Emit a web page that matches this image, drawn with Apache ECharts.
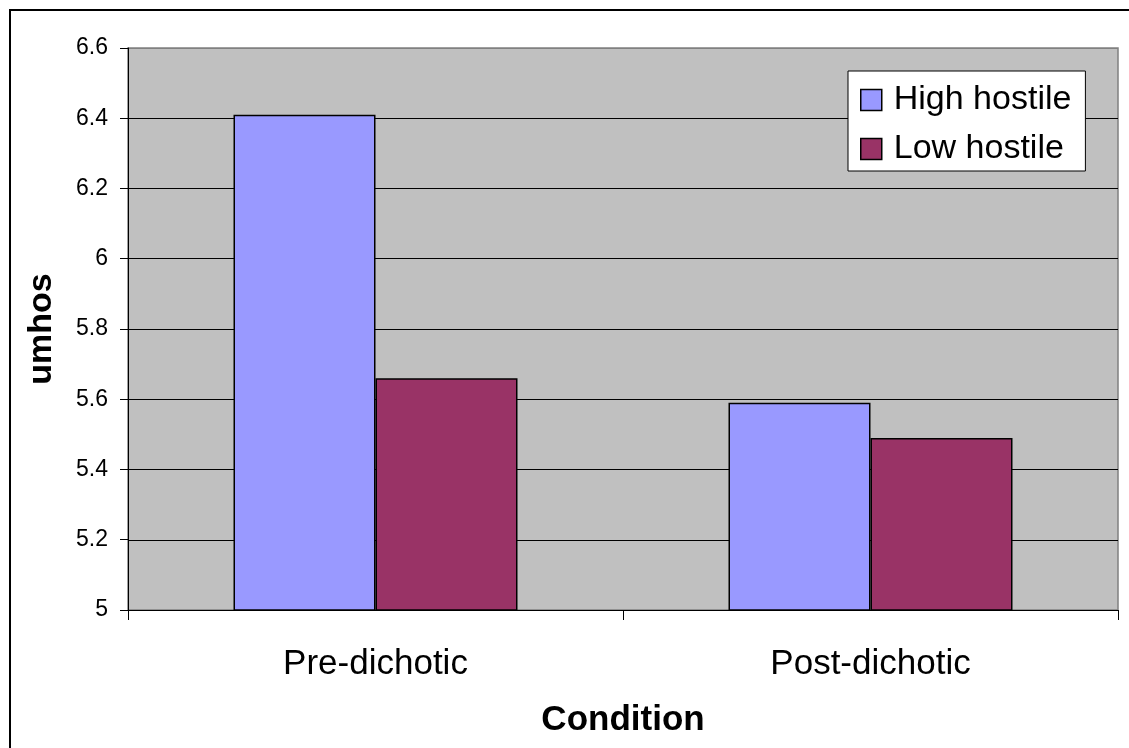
<!DOCTYPE html>
<html>
<head>
<meta charset="utf-8">
<script src="https://cdn.jsdelivr.net/npm/echarts@6/dist/echarts.min.js"></script>
<style>
html,body{margin:0;padding:0;background:#fff;}
#chart{width:1129px;height:748px;}
</style>
</head>
<body>
<div id="chart"></div>
<script>
const categories = ['Pre-dichotic', 'Post-dichotic'];
const highHostile = [6.41, 5.59];
const lowHostile = [5.66, 5.49];
const seriesNames = ['High hostile', 'Low hostile'];

const FONT = '"Liberation Sans", Arial, sans-serif';
const chart = echarts.init(document.getElementById('chart'));
chart.setOption({
  animation: false,
  backgroundColor: '#ffffff',
  graphic: [{
    type: 'rect',
    shape: {x: 10, y: 10, width: 1140, height: 760},
    style: {fill: 'none', stroke: '#000', lineWidth: 2},
    z: 100
  }],
  grid: {
    left: 128, right: 11, top: 48, bottom: 138,
    show: true, backgroundColor: '#C0C0C0', borderColor: '#808080', borderWidth: 1.5
  },
  legend: {
    data: seriesNames,
    orient: 'vertical',
    left: 848, top: 71,
    backgroundColor: '#ffffff',
    borderColor: '#000', borderWidth: 1,
    padding: [12, 14, 5, 12],
    itemWidth: 21, itemHeight: 21, itemGap: 15,
    icon: 'rect',
    itemStyle: {borderColor: '#000', borderWidth: 1.5},
    textStyle: {fontSize: 34, fontFamily: FONT, color: '#000', padding: [0, 0, 0, 7], lineHeight: 34}
  },
  xAxis: {
    type: 'category',
    data: categories,
    axisLine: {lineStyle: {color: '#000', width: 1}},
    axisTick: {show: true, length: 10, lineStyle: {color: '#000'}},
    axisLabel: {fontSize: 35, fontFamily: FONT, color: '#000', margin: 37},
    name: 'Condition',
    nameLocation: 'middle',
    nameGap: 93,
    nameTextStyle: {fontSize: 35, fontWeight: 'bold', fontFamily: FONT, color: '#000'}
  },
  yAxis: {
    type: 'value',
    min: 5, max: 6.6, interval: 0.2,
    axisLine: {show: true, lineStyle: {color: '#000', width: 1}},
    axisTick: {show: true, length: 8, lineStyle: {color: '#000'}},
    axisLabel: {fontSize: 23, fontFamily: FONT, color: '#000', margin: 20},
    splitLine: {show: true, lineStyle: {color: ['#000', '#000', '#000', '#000', '#000', '#000', '#000', '#000', '#808080'], width: 1}},
    name: 'umhos',
    nameLocation: 'middle',
    nameGap: 69,
    nameRotate: 90,
    nameTextStyle: {fontSize: 34, fontWeight: 'bold', fontFamily: FONT, color: '#000'}
  },
  series: [
    {
      name: seriesNames[0], type: 'bar', data: highHostile,
      barWidth: 142, barGap: '0%',
      itemStyle: {color: '#9999FF', borderColor: '#000', borderWidth: 1.5}
    },
    {
      name: seriesNames[1], type: 'bar', data: lowHostile,
      barWidth: 142, barGap: '0%',
      itemStyle: {color: '#993366', borderColor: '#000', borderWidth: 1.5}
    }
  ]
});
</script>
</body>
</html>
